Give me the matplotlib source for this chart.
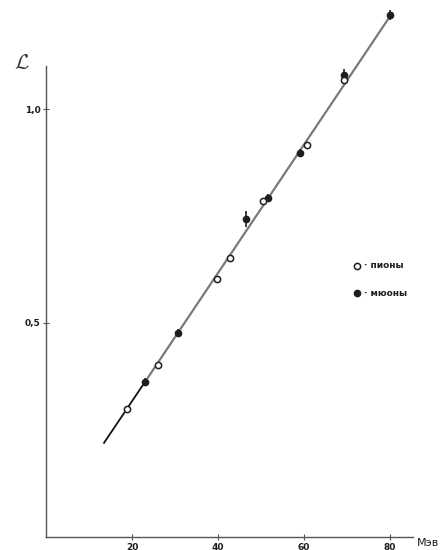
import matplotlib
matplotlib.use("Agg")
import matplotlib.pyplot as plt

# data
pion_E = [18.8, 26.0, 39.8, 42.8, 50.5, 60.7, 69.3]
pion_L = [0.299, 0.402, 0.603, 0.652, 0.785, 0.916, 1.068]
muon_E = [23.0, 30.7, 46.5, 51.6, 59.1, 69.3, 80.0]
muon_L = [0.362, 0.477, 0.743, 0.792, 0.897, 1.079, 1.220]
muon_err = [0.01, 0.01, 0.018, 0.01, 0.01, 0.015, 0.012]
line_E = [13.5, 23.0, 80.5]
line_L = [0.220, 0.362, 1.224]
x_ticks = [20, 40, 60, 80]
x_labels = ["20", "40", "60", "80"]
y_ticks = [0.5, 1.0]
y_labels = ["0,5", "1,0"]

fig = plt.figure(figsize=(4.42, 5.5), dpi=100)
ax = fig.add_axes([0, 0, 1, 1])
ax.set_xlim(-10.7, 92.1)
ax.set_ylim(-0.0304, 1.2547)

ink = "#1e1e1e"
ax.plot(line_E[:2], line_L[:2], color="#111111", lw=1.3, zorder=2)
ax.plot(line_E[1:], line_L[1:], color="#7a7a7a", lw=1.6, zorder=2)

ax.errorbar(muon_E, muon_L, yerr=muon_err, fmt="o", ms=4.5, color=ink,
            mec=ink, mfc=ink, ecolor=ink, elinewidth=1.2, capsize=0, zorder=4)
ax.plot(pion_E, pion_L, "o", ms=4.5, mfc="white", mec=ink, mew=1.1, zorder=5)

for s in ["top", "right"]:
    ax.spines[s].set_visible(False)
ax.spines["left"].set_position(("data", 0))
ax.spines["bottom"].set_position(("data", 0))
ax.spines["left"].set_bounds(0, 1.10)
ax.spines["bottom"].set_bounds(0, 85.3)
for s in ["left", "bottom"]:
    ax.spines[s].set_color("#555555")
    ax.spines[s].set_linewidth(1.0)

ax.set_xticks(x_ticks)
ax.set_xticklabels(x_labels)
ax.set_yticks(y_ticks)
ax.set_yticklabels(y_labels)
ax.tick_params(direction="inout", length=4, width=0.8, colors="#555555",
               labelcolor=ink, labelsize=6.5, pad=2)
for t in ax.get_xticklabels() + ax.get_yticklabels():
    t.set_fontweight("bold")

ax.text(-5.6, 1.107, r"$\mathcal{L}$", fontsize=15, color="#333333",
        ha="center", va="center", math_fontfamily="cm")
ax.text(88.9, -0.014, "Мэв", fontsize=8, color=ink, ha="center", va="center")

# legend
ax.plot([72.3], [0.634], "o", ms=4.5, mfc="white", mec=ink, mew=1.1)
ax.text(74.0, 0.634, "· пионы", fontsize=6.5, fontweight="bold", color=ink,
        ha="left", va="center")
ax.plot([72.3], [0.570], "o", ms=4.5, mfc=ink, mec=ink)
ax.text(74.0, 0.570, "· мюоны", fontsize=6.5, fontweight="bold", color=ink,
        ha="left", va="center")

fig.savefig("out.png", dpi=100)
